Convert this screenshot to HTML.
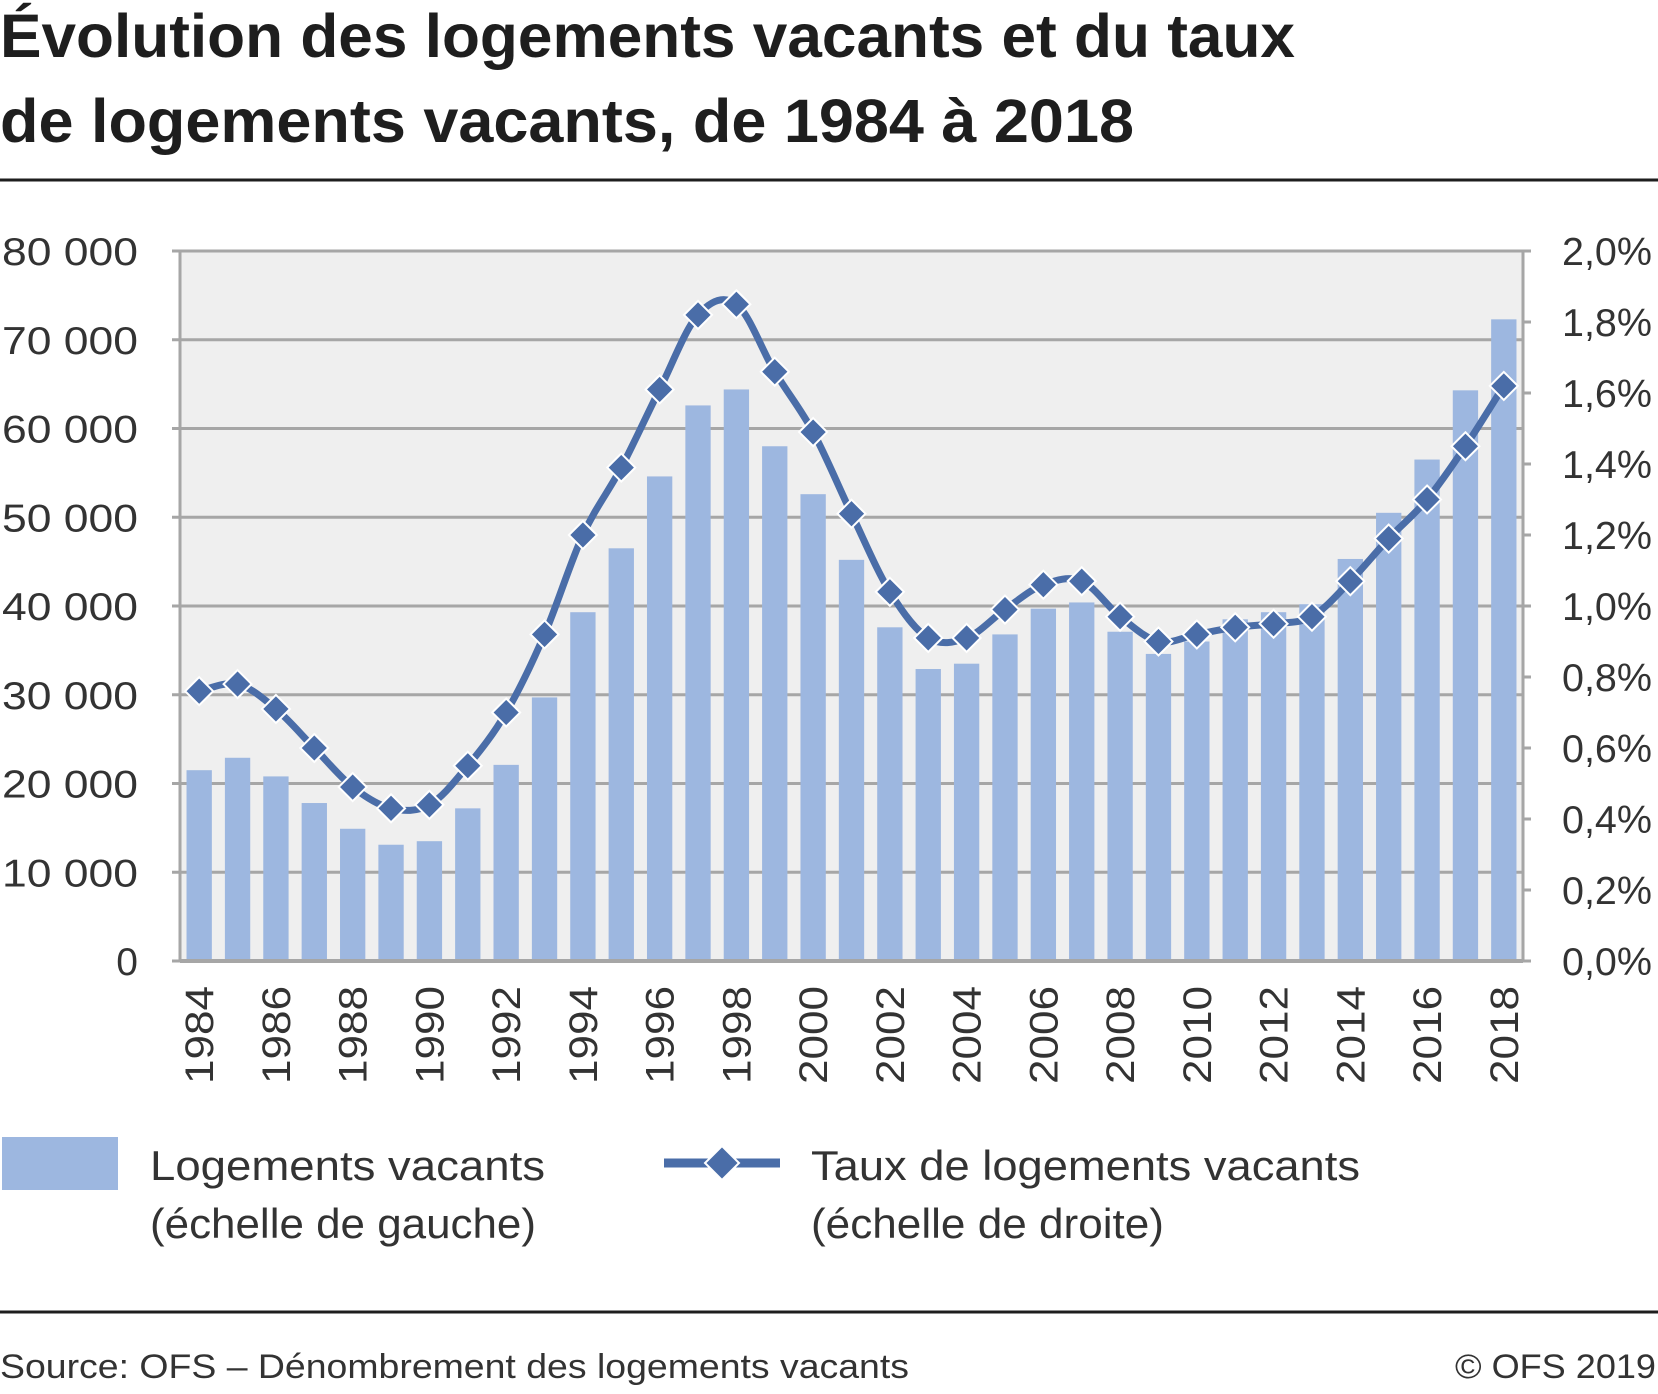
<!DOCTYPE html>
<html><head><meta charset="utf-8">
<style>
html,body{margin:0;padding:0;background:#fff;}
body{width:1658px;height:1389px;overflow:hidden;font-family:"Liberation Sans",sans-serif;color:#222;}
</style></head>
<body>
<svg id="chart" width="1658" height="1389" xmlns="http://www.w3.org/2000/svg">
<text x="0" y="57" font-size="61" font-weight="bold" fill="#1e1e1e" textLength="1295" lengthAdjust="spacingAndGlyphs">Évolution des logements vacants et du taux</text>
<text x="0" y="142" font-size="61" font-weight="bold" fill="#1e1e1e" textLength="1134" lengthAdjust="spacingAndGlyphs">de logements vacants, de 1984 à 2018</text>
<line x1="0" y1="180" x2="1658" y2="180" stroke="#1e1e1e" stroke-width="3"/>
<g id="plot"></g>
<rect x="2" y="1137" width="116" height="53" fill="#9db7e0"/>
<text x="150" y="1180" font-size="42" fill="#333" textLength="395" lengthAdjust="spacingAndGlyphs">Logements vacants</text>
<text x="150" y="1238" font-size="42" fill="#333" textLength="386" lengthAdjust="spacingAndGlyphs">(échelle de gauche)</text>
<line x1="664" y1="1163" x2="780" y2="1163" stroke="#4a6da8" stroke-width="9"/>
<path d="M722 1146 L739 1163 L722 1180 L705 1163 Z" fill="#4a6da8" stroke="#fff" stroke-width="2"/>
<text x="811" y="1180" font-size="42" fill="#333" textLength="549" lengthAdjust="spacingAndGlyphs">Taux de logements vacants</text>
<text x="811" y="1238" font-size="42" fill="#333" textLength="353" lengthAdjust="spacingAndGlyphs">(échelle de droite)</text>
<line x1="0" y1="1312" x2="1658" y2="1312" stroke="#1e1e1e" stroke-width="3"/>
<text x="0" y="1378" font-size="34" fill="#333" textLength="909" lengthAdjust="spacingAndGlyphs">Source: OFS – Dénombrement des logements vacants</text>
<text x="1455" y="1378" font-size="34" fill="#333" textLength="201" lengthAdjust="spacingAndGlyphs">© OFS 2019</text>
</svg>
<script>
const years = [1984,1985,1986,1987,1988,1989,1990,1991,1992,1993,1994,1995,1996,1997,1998,1999,2000,2001,2002,2003,2004,2005,2006,2007,2008,2009,2010,2011,2012,2013,2014,2015,2016,2017,2018];
const vacant = [21500,22900,20800,17800,14900,13100,13500,17200,22100,29700,39300,46500,54600,62600,64400,58000,52600,45200,37600,32900,33500,36800,39700,40400,37100,34600,36000,38500,39300,40200,45300,50500,56500,64300,72300];
const rate = [0.76,0.78,0.71,0.60,0.49,0.43,0.44,0.55,0.70,0.92,1.20,1.39,1.61,1.82,1.85,1.66,1.49,1.26,1.04,0.91,0.91,0.99,1.06,1.07,0.97,0.90,0.92,0.94,0.95,0.97,1.07,1.19,1.30,1.45,1.62];
const leftTicks = [0,10000,20000,30000,40000,50000,60000,70000,80000];
const leftTickLabels = ["0","10 000","20 000","30 000","40 000","50 000","60 000","70 000","80 000"];
const rightTicks = [0,0.2,0.4,0.6,0.8,1.0,1.2,1.4,1.6,1.8,2.0];
const rightTickLabels = ["0,0%","0,2%","0,4%","0,6%","0,8%","1,0%","1,2%","1,4%","1,6%","1,8%","2,0%"];

const NS="http://www.w3.org/2000/svg";
const L=180,R=1523,T=251,B=961;
const step=(R-L)/years.length;
const xC=i=>L+step*(i+0.5);
const yL=v=>B-(v/80000)*(B-T);
const yR=v=>B-(v/2)*(B-T);
const g=document.getElementById('plot');
function mk(tag,attrs){const e=document.createElementNS(NS,tag);for(const k in attrs)e.setAttribute(k,attrs[k]);g.appendChild(e);return e;}

let e=mk('rect',{x:L,y:T,width:R-L,height:B-T,fill:'#efefef'});



leftTicks.forEach((v,i)=>{
  const y=yL(v);
  let ln=mk('line',{x1:L-8,y1:y,x2:R,y2:y,stroke:'#a6a6a6','stroke-width':3});
  
  
  const lab=leftTickLabels[i];
  const at={x:lab.length>1?2:138,y:y+14,'font-size':39,fill:'#333'};
  if(lab.length>1){at.textLength=136;at.lengthAdjust='spacingAndGlyphs';}else{at['text-anchor']='end';}
  let t=mk('text',at);
  t.textContent=lab;
  
  
});
rightTicks.forEach((v,i)=>{
  const y=yR(v);
  let ln=mk('line',{x1:R,y1:y,x2:R+8,y2:y,stroke:'#a6a6a6','stroke-width':3});
  
  
  let t=mk('text',{x:1562,y:y+14,'font-size':39,fill:'#333',textLength:90,lengthAdjust:'spacingAndGlyphs'});
  t.textContent=rightTickLabels[i];
  
  
});
e=mk('line',{x1:L,y1:T,x2:L,y2:B,stroke:'#a6a6a6','stroke-width':3});


e=mk('line',{x1:R,y1:T,x2:R,y2:B,stroke:'#a6a6a6','stroke-width':3});



const bw=step*0.66;
vacant.forEach((v,i)=>{
  let r=mk('rect',{x:xC(i)-bw/2,y:yL(v),width:bw,height:B-yL(v),fill:'#9db7e0'});
  
  
});
e=mk('line',{x1:L,y1:B,x2:R,y2:B,stroke:'#a6a6a6','stroke-width':4});



const pts=rate.map((v,i)=>[xC(i),yR(v)]);
let d='M'+pts[0][0]+' '+pts[0][1];
for(let i=0;i<pts.length-1;i++){
  const p0=pts[i-1]||pts[i],p1=pts[i],p2=pts[i+1],p3=pts[i+2]||p2;
  const c1=[p1[0]+(p2[0]-p0[0])/6,p1[1]+(p2[1]-p0[1])/6];
  const c2=[p2[0]-(p3[0]-p1[0])/6,p2[1]-(p3[1]-p1[1])/6];
  d+=` C${c1[0]} ${c1[1]} ${c2[0]} ${c2[1]} ${p2[0]} ${p2[1]}`;
}
e=mk('path',{d:d,fill:'none',stroke:'#4a6da8','stroke-width':7});


pts.forEach((p,i)=>{
  const s=14;
  let m=mk('path',{d:`M${p[0]} ${p[1]-s} L${p[0]+s} ${p[1]} L${p[0]} ${p[1]+s} L${p[0]-s} ${p[1]} Z`,fill:'#4a6da8',stroke:'#fff','stroke-width':2});
  
  
});

years.forEach((yr,i)=>{
  if(i%2) return;
  const x=xC(i);
  let t=mk('text',{x:-1084,y:0,'font-size':40,fill:'#333',textLength:98,lengthAdjust:'spacingAndGlyphs',transform:`translate(${x+14},0) rotate(-90)`});
  t.textContent=yr;
  
  
});
</script>
</body></html>
